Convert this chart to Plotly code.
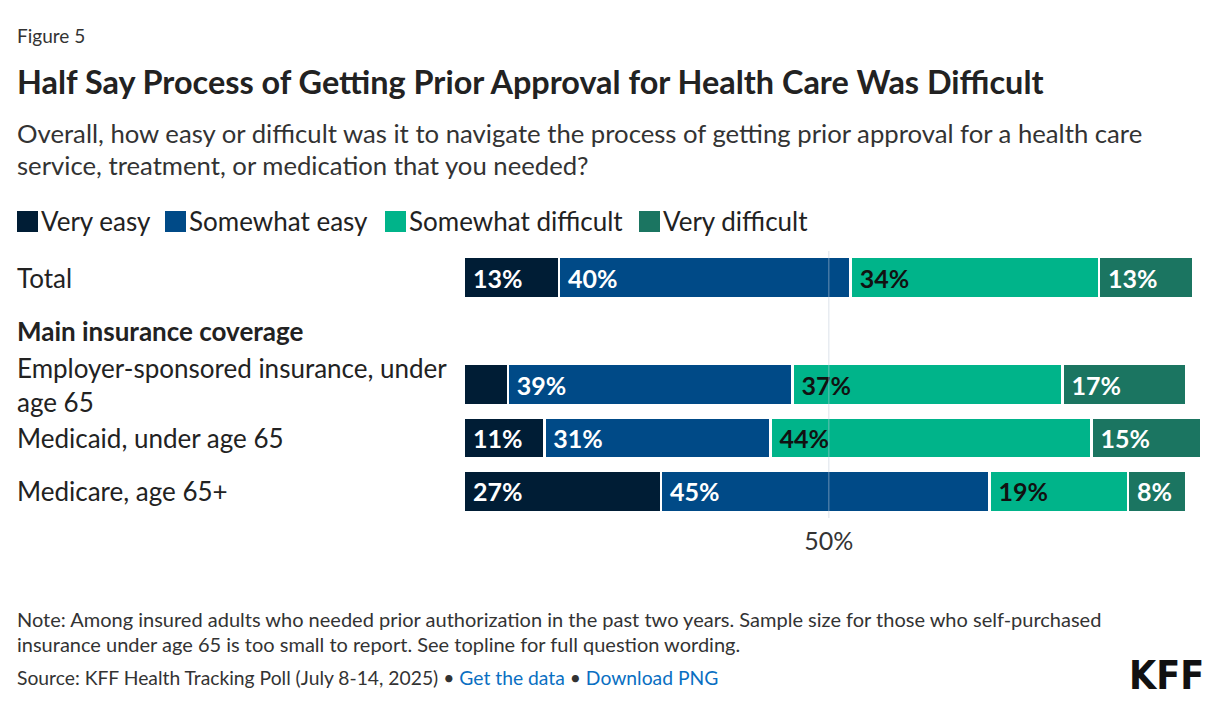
import plotly.graph_objects as go

categories = ["Total", "Main insurance coverage", "Employer-sponsored insurance, under<br>age 65",
              "Medicaid, under age 65", "Medicare, age 65+"]
row_keys = ["total", "header", "esi", "medicaid", "medicare"]
series_names = ["Very easy", "Somewhat easy", "Somewhat difficult", "Very difficult"]
very_easy = [13, None, 6, 11, 27]
somewhat_easy = [40, None, 39, 31, 45]
somewhat_difficult = [34, None, 37, 44, 19]
very_difficult = [13, None, 17, 15, 8]
colors = ["#001d35", "#004a87", "#00b48a", "#1b7561"]
label_colors = ["#ffffff", "#ffffff", "#111111", "#ffffff"]
x_ticks = [50]
x_tick_labels = ["50%"]

FONT = "Lato"
# page offset of the figure inside the browser window (body margin)
OX, OY = 9, 9
W, H = 1228 - 18, 720 - 9
L, T = 465 - OX, 252 - OY
R = W - (1202 - OX)
B = H - (519 - OY)
PW, PH = W - L - R, H - T - B
TEXT_X = 16


def px_x(px):
    return (px - OX - L) / PW


def px_y(py):
    return 1 - (py - OY - T) / PH


fig = go.Figure()
series = [very_easy, somewhat_easy, somewhat_difficult, very_difficult]
for name, vals, col, lc in zip(series_names, series, colors, label_colors):
    txt = [("\u00a0" + f"{v}%") if (v is not None and v >= 8) else "" for v in vals]
    fig.add_trace(go.Bar(
        y=row_keys, x=vals, orientation="h", name=name,
        marker=dict(color=col, line=dict(color="white", width=2.5)),
        text=txt, textposition="inside", insidetextanchor="start",
        textfont=dict(family=FONT, size=25, color=lc, weight="bold"),
        constraintext="none", cliponaxis=False,
        showlegend=False, hoverinfo="skip",
    ))

fig.add_vline(x=50, line=dict(color="rgba(190,200,215,0.55)", width=1), layer="above")

# row labels
for key, cat in zip(row_keys, categories):
    fig.add_annotation(
        x=px_x(TEXT_X), xref="paper", y=key, yref="y", text=cat, showarrow=False,
        xanchor="left", yanchor="middle", align="left",
        font=dict(family=FONT, size=26, color="#222222",
                  weight="bold" if key == "header" else "normal"),
    )

# legend (manual)
legend_sq_x = [18, 166, 386, 640]
legend_txt_x = [40, 188, 408, 662]
for name, col, sx, tx in zip(series_names, colors, legend_sq_x, legend_txt_x):
    fig.add_shape(type="rect", xref="paper", yref="paper",
                  x0=px_x(sx), x1=px_x(sx + 21), y0=px_y(212), y1=px_y(233),
                  fillcolor=col, line=dict(width=0))
    fig.add_annotation(text=name, xref="paper", yref="paper", x=px_x(tx), y=px_y(222),
                       xanchor="left", yanchor="middle", showarrow=False,
                       font=dict(family=FONT, size=26, color="#222222"))

fig.update_layout(
    width=W, height=H,
    margin=dict(l=L, r=R, t=T, b=B, autoexpand=False),
    barmode="stack", bargap=0.23,
    plot_bgcolor="white", paper_bgcolor="white",
    font=dict(family=FONT, color="#222222"),
    showlegend=False,
    xaxis=dict(range=[0, 101], tickvals=x_ticks, ticktext=x_tick_labels, showgrid=False,
               zeroline=False, showline=False, ticks="", automargin=False, ticklabelstandoff=6,
               tickfont=dict(family=FONT, size=25, color="#333333")),
    yaxis=dict(categoryorder="array", categoryarray=row_keys, autorange="reversed",
               showticklabels=False, showgrid=False, zeroline=False, ticks="", automargin=False),
)

top_texts = [
    dict(text="Figure 5", y=36, size=19, weight="normal", color="#333333"),
    dict(text="Half Say Process of Getting Prior Approval for Health Care Was Difficult", y=82, size=32.4,
         weight="bold", color="#222222"),
    dict(text="Overall, how easy or difficult was it to navigate the process of getting prior approval for a health care",
         y=134, size=25.7, weight="normal", color="#333333"),
    dict(text="service, treatment, or medication that you needed?", y=166, size=25.7, weight="normal", color="#333333"),
    dict(text="Note: Among insured adults who needed prior authorization in the past two years. Sample size for those who self-purchased",
         y=620, size=20, weight="normal", color="#333333"),
    dict(text="insurance under age 65 is too small to report. See topline for full question wording.",
         y=645, size=20, weight="normal", color="#333333"),
    dict(text="Source: KFF Health Tracking Poll (July 8-14, 2025) \u2022 <span style='color:#0a6fc2'>Get the data</span> \u2022 <span style='color:#0a6fc2'>Download PNG</span>",
         y=678, size=19.3, weight="normal", color="#333333"),
]
for t in top_texts:
    fig.add_annotation(text=t["text"], xref="paper", yref="paper", x=px_x(TEXT_X),
                       y=px_y(t["y"]), yanchor="middle", xanchor="left",
                       showarrow=False, align="left",
                       font=dict(family=FONT, size=t["size"], color=t["color"], weight=t["weight"]))

fig.add_annotation(text="KFF", xref="paper", yref="paper", x=px_x(1207),
                   y=px_y(676), yanchor="middle", xanchor="right",
                   showarrow=False,
                   font=dict(family="Liberation Sans Narrow, DejaVu Sans Condensed", size=39,
                             color="#111111", weight="bold"))

fig.write_html("out.html")
